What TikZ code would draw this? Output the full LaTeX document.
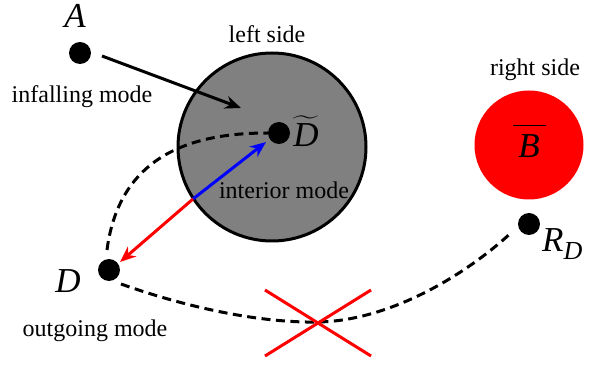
\documentclass[tikz,border=0pt]{standalone}
\usepackage{exscale}
\usepackage{fontspec}
\setmainfont{Liberation Serif}
\usetikzlibrary{arrows.meta}
\begin{document}
\begin{tikzpicture}[x=1pt,y=-1pt,
  dot/.style={circle,fill=black,inner sep=0pt,minimum size=22pt},
  lbl/.style={inner sep=0pt,font=\fontsize{24}{28}\selectfont},
  mathlbl/.style={inner sep=0pt,font=\fontsize{35}{40}\selectfont\itshape},
  arr/.style={line width=3pt,-{Stealth[length=16pt,width=13pt]}},
  dsh/.style={line width=3pt,dash pattern=on 9pt off 5.5pt}]
\useasboundingbox (0,0) rectangle (598,366);
% discs
\node[circle,draw=black,line width=3pt,fill=black!50,minimum size=188pt,inner sep=0pt] (L) at (272,147) {};
\node[circle,fill=red,minimum size=109pt,inner sep=0pt] (R) at (529,145) {};
% dots
\node[dot] (A) at (80,53) {};
\node[dot] (Dt) at (279,133) {};
\node[dot] (D) at (109,270) {};
\node[dot] (RD) at (529,224) {};
% labels
\node[mathlbl] (lA) at (75,16) {A};
\node[mathlbl] (lD) at (68,281) {D};
\node[mathlbl,anchor=west] (lRD) at (542,244) {R$_{\mbox{\fontsize{26}{30}\selectfont\itshape D}}$};
\node[inner sep=0pt,font=\fontsize{35}{40}\selectfont] (lDt) at (306,131) {$\widetilde{\hbox{\itshape D}}$};
\node[inner sep=0pt,anchor=base,font=\fontsize{35}{40}\selectfont] (lB) at (529,158) {\vbox{\offinterlineskip\hbox to 33pt{\leaders\hrule height 1.3pt\hfill}\kern9pt\hbox to 33pt{\hss\itshape B\hss}}};
\node[lbl] (t1) at (267,34) {left side};
\node[lbl] (t2) at (535,70) {right side};
\node[lbl] (t3) at (82,97) {infalling mode};
\node[lbl] (t4) at (284,190) {interior mode};
\node[lbl] (t5) at (95,331) {outgoing mode};
% coordinates
\coordinate (a1) at (102,56);
\coordinate (a2) at (241,108);
\coordinate (j) at (193,199);
\coordinate (bt) at (266,142);
\coordinate (rt) at (120,262);
\coordinate (d1) at (107,250);
\coordinate (d2) at (268,133);
\coordinate (e1) at (121,284);
\coordinate (xc) at (318,322);
\coordinate (e2) at (512,232);
% connectors
\draw[arr] (a1) -- (a2);
\draw[arr,blue] (j) -- (bt);
\draw[arr,red] (j) -- (rt);
\draw[dsh] (d1) .. controls (120,150) and (200,133) .. (d2);
\draw[dsh] (e1) .. controls (200,312) and (270,323) .. (xc) .. controls (385,321) and (460,280) .. (e2);
% cross
\draw[red,line width=3pt] (265,290) -- (371,356) (265,356) -- (371,290);
\end{tikzpicture}
\end{document}
